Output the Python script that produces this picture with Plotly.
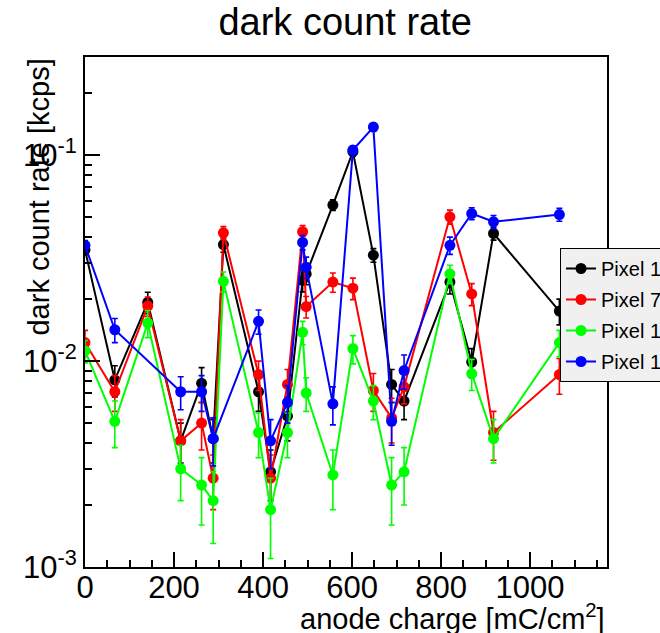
import plotly.graph_objects as go

# ---------------- data ----------------
charge = [0, 67, 141, 215, 262, 288, 311, 390, 417, 455, 489, 497, 557, 602, 648, 689, 717, 820, 869, 918, 1066]
charge_p16 = [0, 67, 215, 262, 288, 390, 417, 455, 489, 497, 557, 602, 648, 689, 717, 820, 869, 918, 1066]

rate_p1 = [0.0347, 0.0081, 0.0193, 0.0041, 0.0078, 0.0042, 0.0368, 0.0071, 0.0029, 0.0054, 0.0247, 0.0265,
           0.0573, 0.104, 0.0327, 0.0077, 0.0064, 0.0242, 0.0099, 0.0417, 0.0175]
err_p1 = [0.0018, 0.0014, 0.0023, 0.0009, 0.0015, 0.0010, 0.0030, 0.0014, 0.0008, 0.0013, 0.0030, 0.0030,
          0.0034, 0.0050, 0.0025, 0.0014, 0.0012, 0.0030, 0.0016, 0.0030, 0.0025]

rate_p7 = [0.0123, 0.0071, 0.0185, 0.0041, 0.0050, 0.0027, 0.0420, 0.0086, 0.0027, 0.0077, 0.0425, 0.0184,
           0.0242, 0.0226, 0.0072, 0.0053, 0.0075, 0.0502, 0.0212, 0.0045, 0.0086]
err_p7 = [0.0018, 0.0014, 0.0020, 0.0011, 0.0013, 0.0008, 0.0030, 0.0014, 0.0008, 0.0014, 0.0030, 0.0022,
          0.0026, 0.0027, 0.0015, 0.0013, 0.0013, 0.0039, 0.0026, 0.0012, 0.0017]

rate_p11 = [0.0112, 0.0051, 0.0153, 0.0030, 0.0025, 0.0021, 0.0244, 0.0045, 0.0019, 0.0045, 0.0138, 0.0070,
            0.0028, 0.0115, 0.0064, 0.0025, 0.0029, 0.0265, 0.0087, 0.0042, 0.0123]
err_p11 = [0.0014, 0.0013, 0.0023, 0.0009, 0.0009, 0.0008, 0.0027, 0.0011, 0.0008, 0.0011, 0.0018, 0.0013,
           0.0009, 0.0018, 0.0012, 0.0009, 0.0009, 0.0027, 0.0015, 0.0010, 0.0018]

rate_p16 = [0.0365, 0.0142, 0.0071, 0.0071, 0.0042, 0.0156, 0.0041, 0.0063, 0.0377, 0.0286, 0.0062,
            0.106, 0.137, 0.0051, 0.0090, 0.0365, 0.0521, 0.0475, 0.0515]
err_p16 = [0.0020, 0.0019, 0.0013, 0.0014, 0.0011, 0.0021, 0.0011, 0.0013, 0.0030, 0.0034, 0.0013,
           0.0050, 0.0060, 0.0012, 0.0017, 0.0035, 0.0035, 0.0035, 0.0037]

series_names = ["Pixel 1", "Pixel 7", "Pixel 11", "Pixel 16"]
series_colors = ["#000000", "#ff0000", "#00ff00", "#0000ff"]

y_tickvals = [0.001, 0.01, 0.1]
y_ticktext = ["10<sup>-3</sup>", "10<sup>-2</sup>", "10<sup>-1</sup>"]

FONT = "Liberation Sans, Arial, Helvetica, sans-serif"

# ---------------- figure ----------------
fig = go.Figure()
data = [
    (charge, rate_p1, err_p1),
    (charge, rate_p7, err_p7),
    (charge, rate_p11, err_p11),
    (charge_p16, rate_p16, err_p16),
]
for (xs, ys, es), name, col in zip(data, series_names, series_colors):
    fig.add_trace(go.Scatter(
        x=xs, y=ys, name=name, legendgroup=name, mode="lines+markers",
        line=dict(color=col, width=2),
        marker=dict(color=col, size=11, line=dict(width=0)),
        error_y=dict(type="data", array=es, color=col, thickness=1.6, width=3),
    ))

minor_y = [m * 10.0 ** e for e in (-3, -2, -1) for m in range(2, 10) if m * 10.0 ** e <= 0.3]

fig.update_layout(
    width=660, height=633,
    margin=dict(l=85, r=53, t=57, b=66, autoexpand=False),
    paper_bgcolor="white", plot_bgcolor="white",
    font=dict(family=FONT, color="black"),
    title=dict(text="dark count rate", x=0.523, xanchor="center", y=1 - 22 / 633, yanchor="middle",
               font=dict(size=38, family=FONT, color="black")),
    showlegend=True,
    legend=dict(x=0.91, xanchor="left", y=0.6255, yanchor="top",
                bgcolor="#f0f0f0", bordercolor="black", borderwidth=1,
                font=dict(size=20, family=FONT, color="black"),
                tracegroupgap=2, itemwidth=30),
    xaxis=dict(range=[0, 1173], showgrid=False, zeroline=False,
               showline=True, linecolor="black", linewidth=2, mirror=True,
               ticks="inside", ticklen=15, tickwidth=1.5, tickcolor="black",
               tick0=0, dtick=200, ticklabelstandoff=-8,
               minor=dict(ticks="inside", ticklen=7, tickwidth=1.5, tickcolor="black", dtick=50, tick0=0, showgrid=False),
               tickfont=dict(size=31, family=FONT, color="black")),
    yaxis=dict(type="log", range=[-3, -0.5229], showgrid=False, zeroline=False,
               showline=True, linecolor="black", linewidth=2, mirror=True,
               ticks="inside", ticklen=15, tickwidth=1.5, tickcolor="black",
               tickmode="array", tickvals=y_tickvals, ticktext=y_ticktext,
               minor=dict(ticks="inside", ticklen=7, tickwidth=1.5, tickcolor="black",
                          tickmode="array", tickvals=minor_y, showgrid=False),
               tickfont=dict(size=31, family=FONT, color="black")),
    annotations=[
        dict(text="anode charge [mC/cm<sup>2</sup>]", xref="paper", yref="paper",
             x=1.0, xanchor="right", y=-0.098, yanchor="middle", showarrow=False,
             font=dict(size=29, family=FONT, color="black")),
        dict(text="dark count rate [kcps]", xref="paper", yref="paper",
             x=-0.09, xanchor="center", y=1.0, yanchor="top", textangle=-90, showarrow=False,
             font=dict(size=29, family=FONT, color="black")),
    ],
)

fig.write_html("out.html")
